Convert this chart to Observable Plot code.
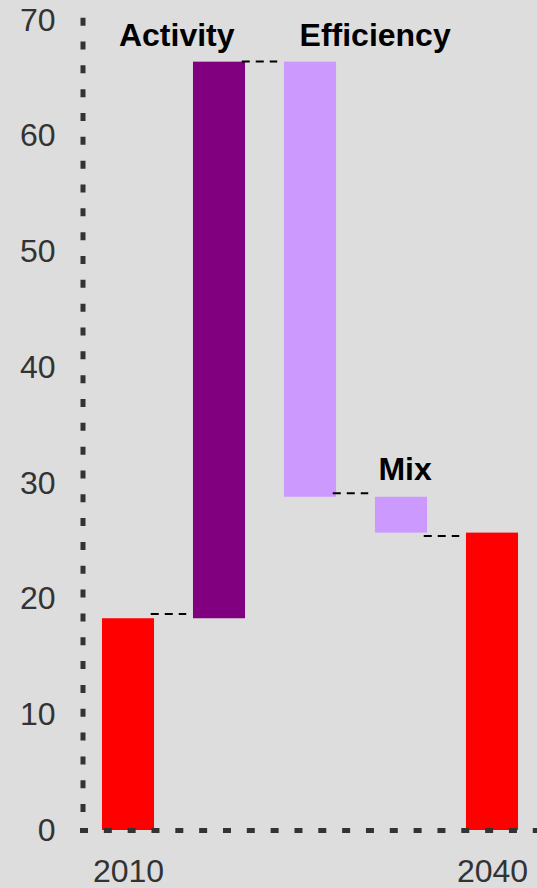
<!DOCTYPE html>
<html><head><meta charset="utf-8">
<script src="https://cdn.jsdelivr.net/npm/d3@7"></script>
<script src="https://cdn.jsdelivr.net/npm/@observablehq/plot@0.6"></script>
<style>
html,body{margin:0;padding:0;background:#dddddd;}
#chart{width:537px;height:888px;}
</style></head><body><div id="chart"></div>
<script>
const categories = ["2010", "Activity", "Efficiency", "Mix", "2040"];
const starts = [0, 18.3, 66.4, 28.8, 0];
const ends = [18.3, 66.4, 28.8, 25.7, 25.7];
const colors = ["#ff0000", "#800080", "#cc99ff", "#cc99ff", "#ff0000"];
const linkLevels = [18.7, 66.45, 29.15, 25.45];
const yTicks = [0, 10, 20, 30, 40, 50, 60, 70];
const xTickLabels = ["2010", "2040"];
const labels = ["Activity", "Efficiency", "Mix"];
const labelX = [0.53, 2.71, 3.04];
const labelY = [67.8, 67.8, 30.33];
const axisTop = 70.2;

const bars = categories.map((c, i) => ({c, i, y1: starts[i], y2: ends[i], color: colors[i]}));
const links = linkLevels.map((v, i) => ({i, v}));
const halfW = 0.286;

const chart = Plot.plot({
  width: 537,
  height: 888,
  marginTop: 20,
  marginBottom: 58,
  marginLeft: 82,
  marginRight: 0,
  style: {background: "#dddddd", fontFamily: "'Liberation Sans', Arial, sans-serif", overflow: "visible"},
  x: {domain: [-0.5, 4.5], range: [82.5, 537.5]},
  y: {domain: [0, 70]},
  color: {type: "identity"},
  marks: [
    Plot.rectY(bars, {x1: d => d.i - halfW, x2: d => d.i + halfW, y1: "y1", y2: "y2", fill: "color"}),
    Plot.ruleY(links, {y: "v", x1: d => d.i + 0.25, x2: d => d.i + 0.64, stroke: "#000", strokeWidth: 2, strokeDasharray: "8,6"}),
    Plot.ruleX([{x: -0.5, y1: axisTop, y2: 0}], {x: "x", y1: "y1", y2: "y2", stroke: "#333", strokeWidth: 5, strokeDasharray: "8,15.83"}),
    Plot.ruleY([{y: 0, x1: -0.5, x2: 4.6}], {y: "y", x1: "x1", x2: "x2", dx: -2.5, stroke: "#333", strokeWidth: 5, strokeDasharray: "8,15.83"}),
    Plot.axisY({ticks: yTicks, tickSize: 0, tickPadding: 27, fontSize: 32, color: "#333", label: null}),
    Plot.axisX({ticks: xTickLabels.map(l => categories.indexOf(l)), tickFormat: i => categories[i], tickSize: 0, tickPadding: 29, fontSize: 32, color: "#333", label: null}),
    Plot.text(labels, {x: (d, i) => labelX[i], y: (d, i) => labelY[i], text: d => d, fontSize: 32, fontWeight: "bold", fill: "#000", lineAnchor: "bottom", textAnchor: "middle"})
  ]
});
document.getElementById("chart").appendChild(chart);
</script>
</body></html>
